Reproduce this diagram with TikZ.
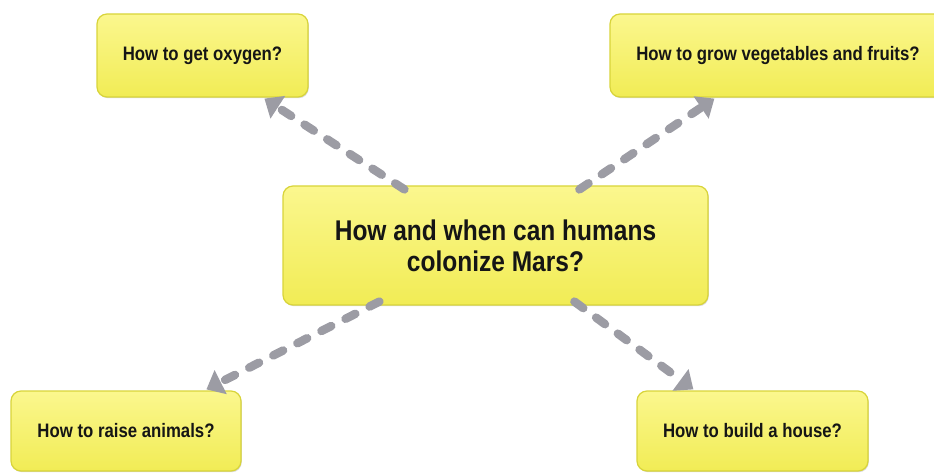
\documentclass[tikz,border=0pt]{standalone}
\usepackage{fontspec}
\setmainfont{Liberation Sans}[FakeStretch=0.86]
\usetikzlibrary{arrows.meta,shadows}
\definecolor{boxtop}{HTML}{FBF78E}
\definecolor{boxbot}{HTML}{F1EC55}
\definecolor{boxedge}{HTML}{D8D43A}
\definecolor{arrowgray}{HTML}{9C9CA4}
\definecolor{txt}{HTML}{151515}
\tikzset{
  qbox/.style={draw=boxedge, line width=1.2pt, rounded corners=10pt,
    top color=boxtop, bottom color=boxbot, text=txt, font=\bfseries,
    align=center, inner sep=0pt,
    drop shadow={shadow xshift=0.8pt, shadow yshift=-1.2pt, opacity=0.25, fill=black!60}},
  small/.style={qbox, font=\bfseries\fontsize{19.5}{22}\selectfont},
  big/.style={qbox, font=\bfseries\fontsize{28.5}{31}\selectfont},
  link/.style={draw=arrowgray, line width=8.5pt, line cap=round,
    dash pattern=on 11pt off 16pt,
    -{Triangle[length=16pt,width=26pt,fill=arrowgray]}, shorten >=0pt}
}
\begin{document}
\begin{tikzpicture}[x=1pt,y=1pt]
\useasboundingbox (0,0) rectangle (934,474);
\node[big, minimum width=425pt, minimum height=119pt] (c) at (495.5,228.5) {How and when can humans\\colonize Mars?};
\node[small, minimum width=211pt, minimum height=83pt] (oxy) at (202.5,418.5) {How to get oxygen?};
\node[small, minimum width=336pt, minimum height=83pt] (veg) at (778,418.5) {How to grow vegetables and fruits?};
\node[small, minimum width=230pt, minimum height=80pt] (ani) at (126,43) {How to raise animals?};
\node[small, minimum width=231pt, minimum height=80pt] (hou) at (752.5,43) {How to build a house?};
\draw[link] ([xshift=122pt,yshift=-4pt]c.north west) -- ([xshift=168pt,yshift=-1pt]oxy.south west);
\draw[link] ([xshift=297pt,yshift=-4pt]c.north west) -- ([xshift=105pt,yshift=-1pt]veg.south west);
\draw[link] ([xshift=97pt,yshift=4pt]c.south west) -- ([xshift=196pt,yshift=1pt]ani.north west);
\draw[link] ([xshift=292pt,yshift=4pt]c.south west) -- ([xshift=57pt,yshift=1pt]hou.north west);
\end{tikzpicture}
\end{document}
